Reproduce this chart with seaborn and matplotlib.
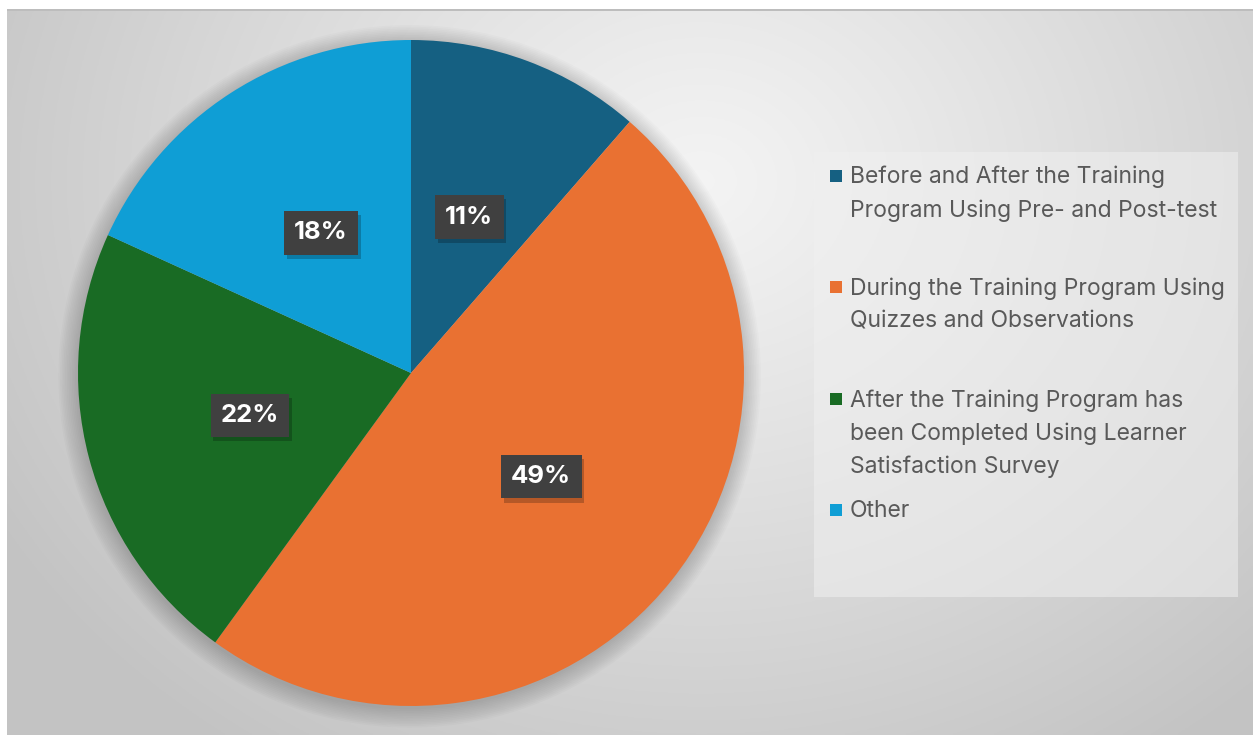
import numpy as np
import seaborn as sns
import matplotlib.pyplot as plt
from matplotlib.patches import Rectangle, Circle
import matplotlib.patheffects as pe

# data
categories = [
    'Before and After the Training\nProgram Using Pre- and Post-test',
    'During the Training Program Using\nQuizzes and Observations',
    'After the Training Program has\nbeen Completed Using Learner\nSatisfaction Survey',
    'Other',
]
shares = [11.4, 48.6, 21.8, 18.2]
colors = ['#156082', '#E97132', '#196B24', '#0F9ED5']

sns.set_style('white')
plt.rcParams['font.family'] = ['Inter', 'DejaVu Sans']

W, H = 1253, 735
fig = plt.figure(figsize=(W / 100, H / 100), dpi=100, facecolor='white')

# background panel with radial gradient
bg = fig.add_axes([7 / W, 0, 1 - 7 / W, (H - 10) / H])
yy, xx = np.mgrid[0:300, 0:500]
px = xx / 500 * (W - 7) + 7
py = yy / 300 * (H - 10) + 10
d = np.sqrt(((px - 700) / 1.0) ** 2 + ((py - 180) / 0.85) ** 2)
t = np.clip(d / 820, 0, 1)
shade = 0.955 - 0.19 * t ** 1.1
bg.imshow(np.dstack([shade] * 3), aspect='auto', extent=[0, 1, 0, 1], origin='upper')
bg.set_xlim(0, 1)
bg.set_ylim(0, 1)
bg.axis('off')
fig.add_artist(Rectangle((7 / W, (H - 11) / H), 1 - 7 / W, 1.5 / H, transform=fig.transFigure,
                         facecolor='#bdbdbd', edgecolor='none'))

# pie
cx, cy, r = 411, 373, 333
ax = fig.add_axes([(cx - r) / W, (H - cy - r) / H, 2 * r / W, 2 * r / H])
ax.set_facecolor('none')
for k in range(12):
    ax.add_patch(Circle((-0.004, -0.01), 1.0 + 0.005 * k, facecolor='black', edgecolor='none',
                        alpha=0.014, zorder=0, clip_on=False))
wedges, texts, autotexts = ax.pie(
    shares, colors=colors, startangle=90, counterclock=False,
    autopct='%.0f%%', pctdistance=0.5,
    wedgeprops=dict(linewidth=0),
    textprops=dict(color='white', fontsize=18.5, fontweight='bold'),
)
for w in wedges:
    w.set_zorder(2)
for at in autotexts:
    at.set_zorder(5)
    at.set_bbox(dict(boxstyle='square,pad=0.4', facecolor='#404040', edgecolor='none',
                     linewidth=0))
    at.get_bbox_patch().set_path_effects([
        pe.SimplePatchShadow(offset=(2, -3), alpha=0.22, shadow_rgbFace='black'), pe.Normal()])
ax.set_xlim(-1, 1)
ax.set_ylim(-1, 1)
ax.set_aspect('equal')
ax.axis('off')

# legend panel
fig.add_artist(Rectangle((814 / W, (H - 597) / H), (1238 - 814) / W, (597 - 152) / H,
                         transform=fig.transFigure, facecolor='#f0f0f0', alpha=0.55,
                         edgecolor='none'))
entry_y = [176, 287, 399, 510]
for label, col, y in zip(categories, colors, entry_y):
    fig.add_artist(Rectangle((830 / W, (H - y - 6) / H), 12 / W, 12 / H,
                             transform=fig.transFigure, facecolor=col, edgecolor='none'))
    fig.text(850 / W, (H - y + 10) / H, label, ha='left', va='top', fontsize=16.5,
             color='#595959', linespacing=1.62)

fig.savefig('out.png', dpi=100, facecolor='white')
